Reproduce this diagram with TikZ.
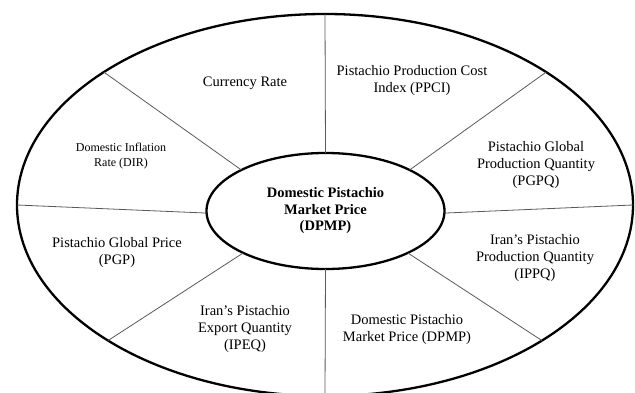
\documentclass[tikz,border=0pt]{standalone}
\usepackage{fontspec}
\setmainfont{Liberation Serif}
\usetikzlibrary{shapes.geometric}

\begin{document}
\begin{tikzpicture}[x=1pt,y=-1pt]
  \tikzstyle{ring}=[ellipse,draw,line width=2.3pt,inner sep=0pt,outer sep=0pt]
  \tikzstyle{factor}=[align=center,font=\fontsize{14.5}{17}\selectfont]
  \tikzstyle{spoke}=[draw=black!65,line width=0.8pt]
  \useasboundingbox (0,0) rectangle (635,393);
  \clip (0,0) rectangle (635,393);
  \node[ring,minimum width=616pt,minimum height=382pt] (rim) at (325,205) {};
  \node[ring,minimum width=238pt,minimum height=116pt,
    font=\bfseries\fontsize{14.5}{16.5}\selectfont,align=center] (core) at (325.5,211)
    {Domestic Pistachio\\Market Price\\(DPMP)};
  \foreach \name/\lab/\x/\y in {cr/{Currency Rate}/245/83,
      ppci/{Pistachio Production Cost\\Index (PPCI)}/412/81,
      pgpq/{Pistachio Global\\Production Quantity\\(PGPQ)}/536/165,
      pgp/{Pistachio Global Price\\(PGP)}/117/253,
      ipeq/{Iran's Pistachio\\Export Quantity\\(IPEQ)}/245/329,
      ippq/{Iran's Pistachio\\Production Quantity\\(IPPQ)}/535/258,
      dpmp/{Domestic Pistachio\\Market Price (DPMP)}/407/330}
    \node[factor] (\name) at (\x,\y) {\lab};
  \node[factor,font=\fontsize{12}{15}\selectfont] (dir) at (121,156) {Domestic Inflation\\Rate (DIR)};
  % spokes between the two rings
  \foreach \from/\to in {90/90,149/154,31/26,180/181,0/359,212/207,328/333,270/270}
    \draw[spoke] (rim.\from) -- (core.\to);
\end{tikzpicture}
\end{document}
